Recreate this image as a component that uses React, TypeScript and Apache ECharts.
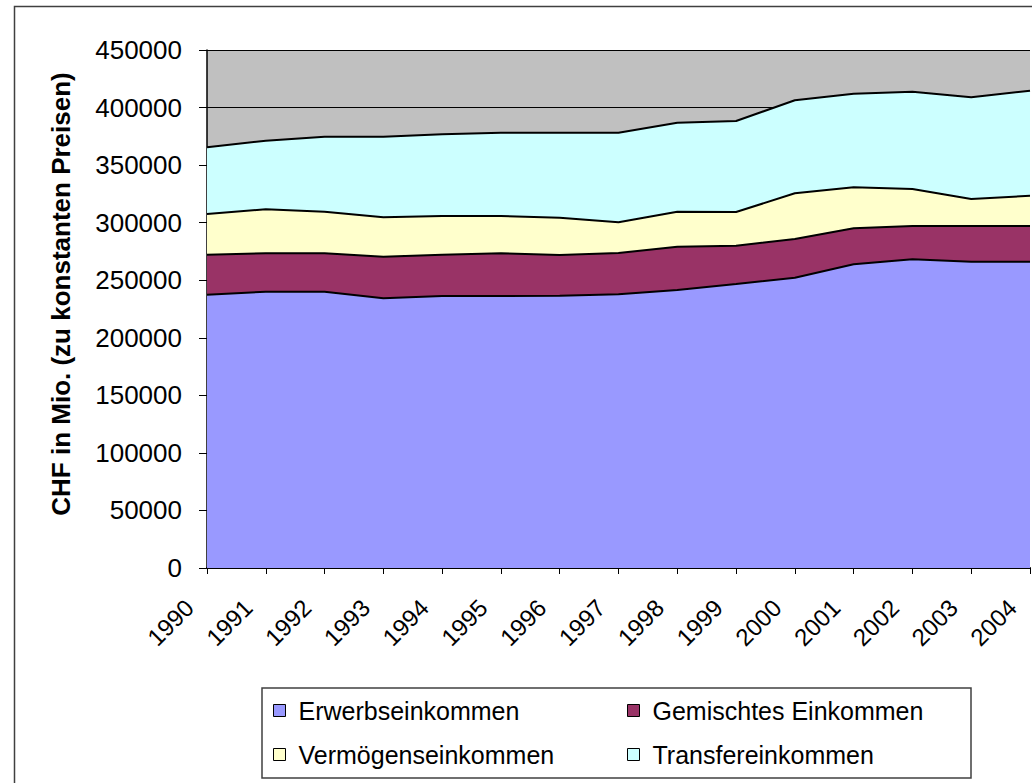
import React, { useEffect, useRef } from "react";
import * as echarts from "echarts";

const years = ["1990","1991","1992","1993","1994","1995","1996","1997","1998","1999","2000","2001","2002","2003","2004"];
const erwerb = [237400, 240000, 240000, 234300, 236300, 236300, 236600, 237800, 241500, 246700, 252200, 263800, 268200, 266100, 266100];
const gemischt = [34800, 33400, 33400, 36100, 35900, 37100, 35300, 35900, 37600, 33300, 33600, 31300, 28900, 31000, 31000];
const vermoegen = [35300, 38200, 36100, 34300, 33600, 32400, 32400, 26600, 30400, 29300, 39700, 35600, 32200, 23500, 26300];
const transfer = [58000, 59600, 65200, 70000, 71000, 72400, 73900, 77900, 77300, 79000, 80900, 81300, 84500, 88300, 91300];

const seriesNames = ["Erwerbseinkommen", "Gemischtes Einkommen", "Vermögenseinkommen", "Transfereinkommen"];
const seriesColors = ["#9999FF", "#993366", "#FFFFCC", "#CCFFFF"];
const seriesData = [erwerb, gemischt, vermoegen, transfer];
const yAxisTitle = "CHF in Mio. (zu konstanten Preisen)";

const FONT = "'Liberation Sans', Arial, sans-serif";

export default function App() {
  const ref = useRef<HTMLDivElement>(null);
  useEffect(() => {
    document.body.style.margin = "0";
    const chart = echarts.init(ref.current!, null, { renderer: "svg" });
    const legendPos = [
      { left: 273, top: 698 },
      { left: 627, top: 698 },
      { left: 273, top: 742 },
      { left: 627, top: 742 },
    ];
    chart.setOption({
      animation: false,
      backgroundColor: "#ffffff",
      textStyle: { fontFamily: FONT },
      grid: {
        left: 207, top: 50, right: 2, bottom: 215,
        show: true, backgroundColor: "#C0C0C0", borderWidth: 0,
        containLabel: false, outerBoundsMode: "none",
      },
      legend: seriesNames.map((n, i) => ({
        data: [n],
        left: legendPos[i].left,
        top: legendPos[i].top,
        padding: 0,
        icon: "rect",
        itemWidth: 12,
        itemHeight: 12,
        itemStyle: { borderColor: "#000", borderWidth: 1 },
        textStyle: { fontFamily: FONT, fontSize: 25, color: "#000", padding: [0, 0, 0, 8] },
        selectedMode: false,
      })),
      xAxis: {
        type: "category",
        data: years,
        boundaryGap: false,
        axisLine: { show: true, lineStyle: { color: "#000", width: 2 } },
        axisTick: { show: true, length: 6, lineStyle: { color: "#000" } },
        axisLabel: {
          interval: 0, rotate: 45, fontSize: 24, color: "#000", fontFamily: FONT,
          margin: 18, padding: [0, 25, 0, 0],
        },
        splitLine: { show: false },
      },
      yAxis: {
        type: "value",
        min: 0, max: 450000, interval: 50000,
        name: yAxisTitle,
        nameLocation: "middle",
        nameRotate: 90,
        nameGap: 133,
        nameTextStyle: { fontFamily: FONT, fontSize: 26, fontWeight: "bold", color: "#000", padding: [0, 0, 0, 30] },
        axisLine: { show: true, lineStyle: { color: "#000", width: 1.5 } },
        axisTick: { show: true, length: 8, lineStyle: { color: "#000" } },
        axisLabel: { fontSize: 26, color: "#000", fontFamily: FONT, margin: 25, formatter: (v: number) => String(v) },
        splitLine: { show: true, lineStyle: { color: "#000", width: 1 } },
      },
      graphic: [
        { type: "rect", shape: { x: 14.5, y: 6.5, width: 1040, height: 800 }, style: { fill: "none", stroke: "#404040", lineWidth: 1.5 }, silent: true, z: -10 },
        { type: "rect", shape: { x: 262, y: 688, width: 709, height: 90 }, style: { fill: "none", stroke: "#404040", lineWidth: 1.5 }, silent: true },
      ],
      series: seriesNames.map((n, i) => ({
        name: n,
        type: "line",
        stack: "total",
        data: seriesData[i],
        symbol: "none",
        showSymbol: false,
        itemStyle: { color: seriesColors[i] },
        lineStyle: { color: "#000", width: 2 },
        areaStyle: { color: seriesColors[i], opacity: 1 },
        z: 10 - i,
      })),
    });
    return () => chart.dispose();
  }, []);
  return <div ref={ref} style={{ position: "absolute", left: 0, top: 0, width: 1032, height: 783 }} />;
}
